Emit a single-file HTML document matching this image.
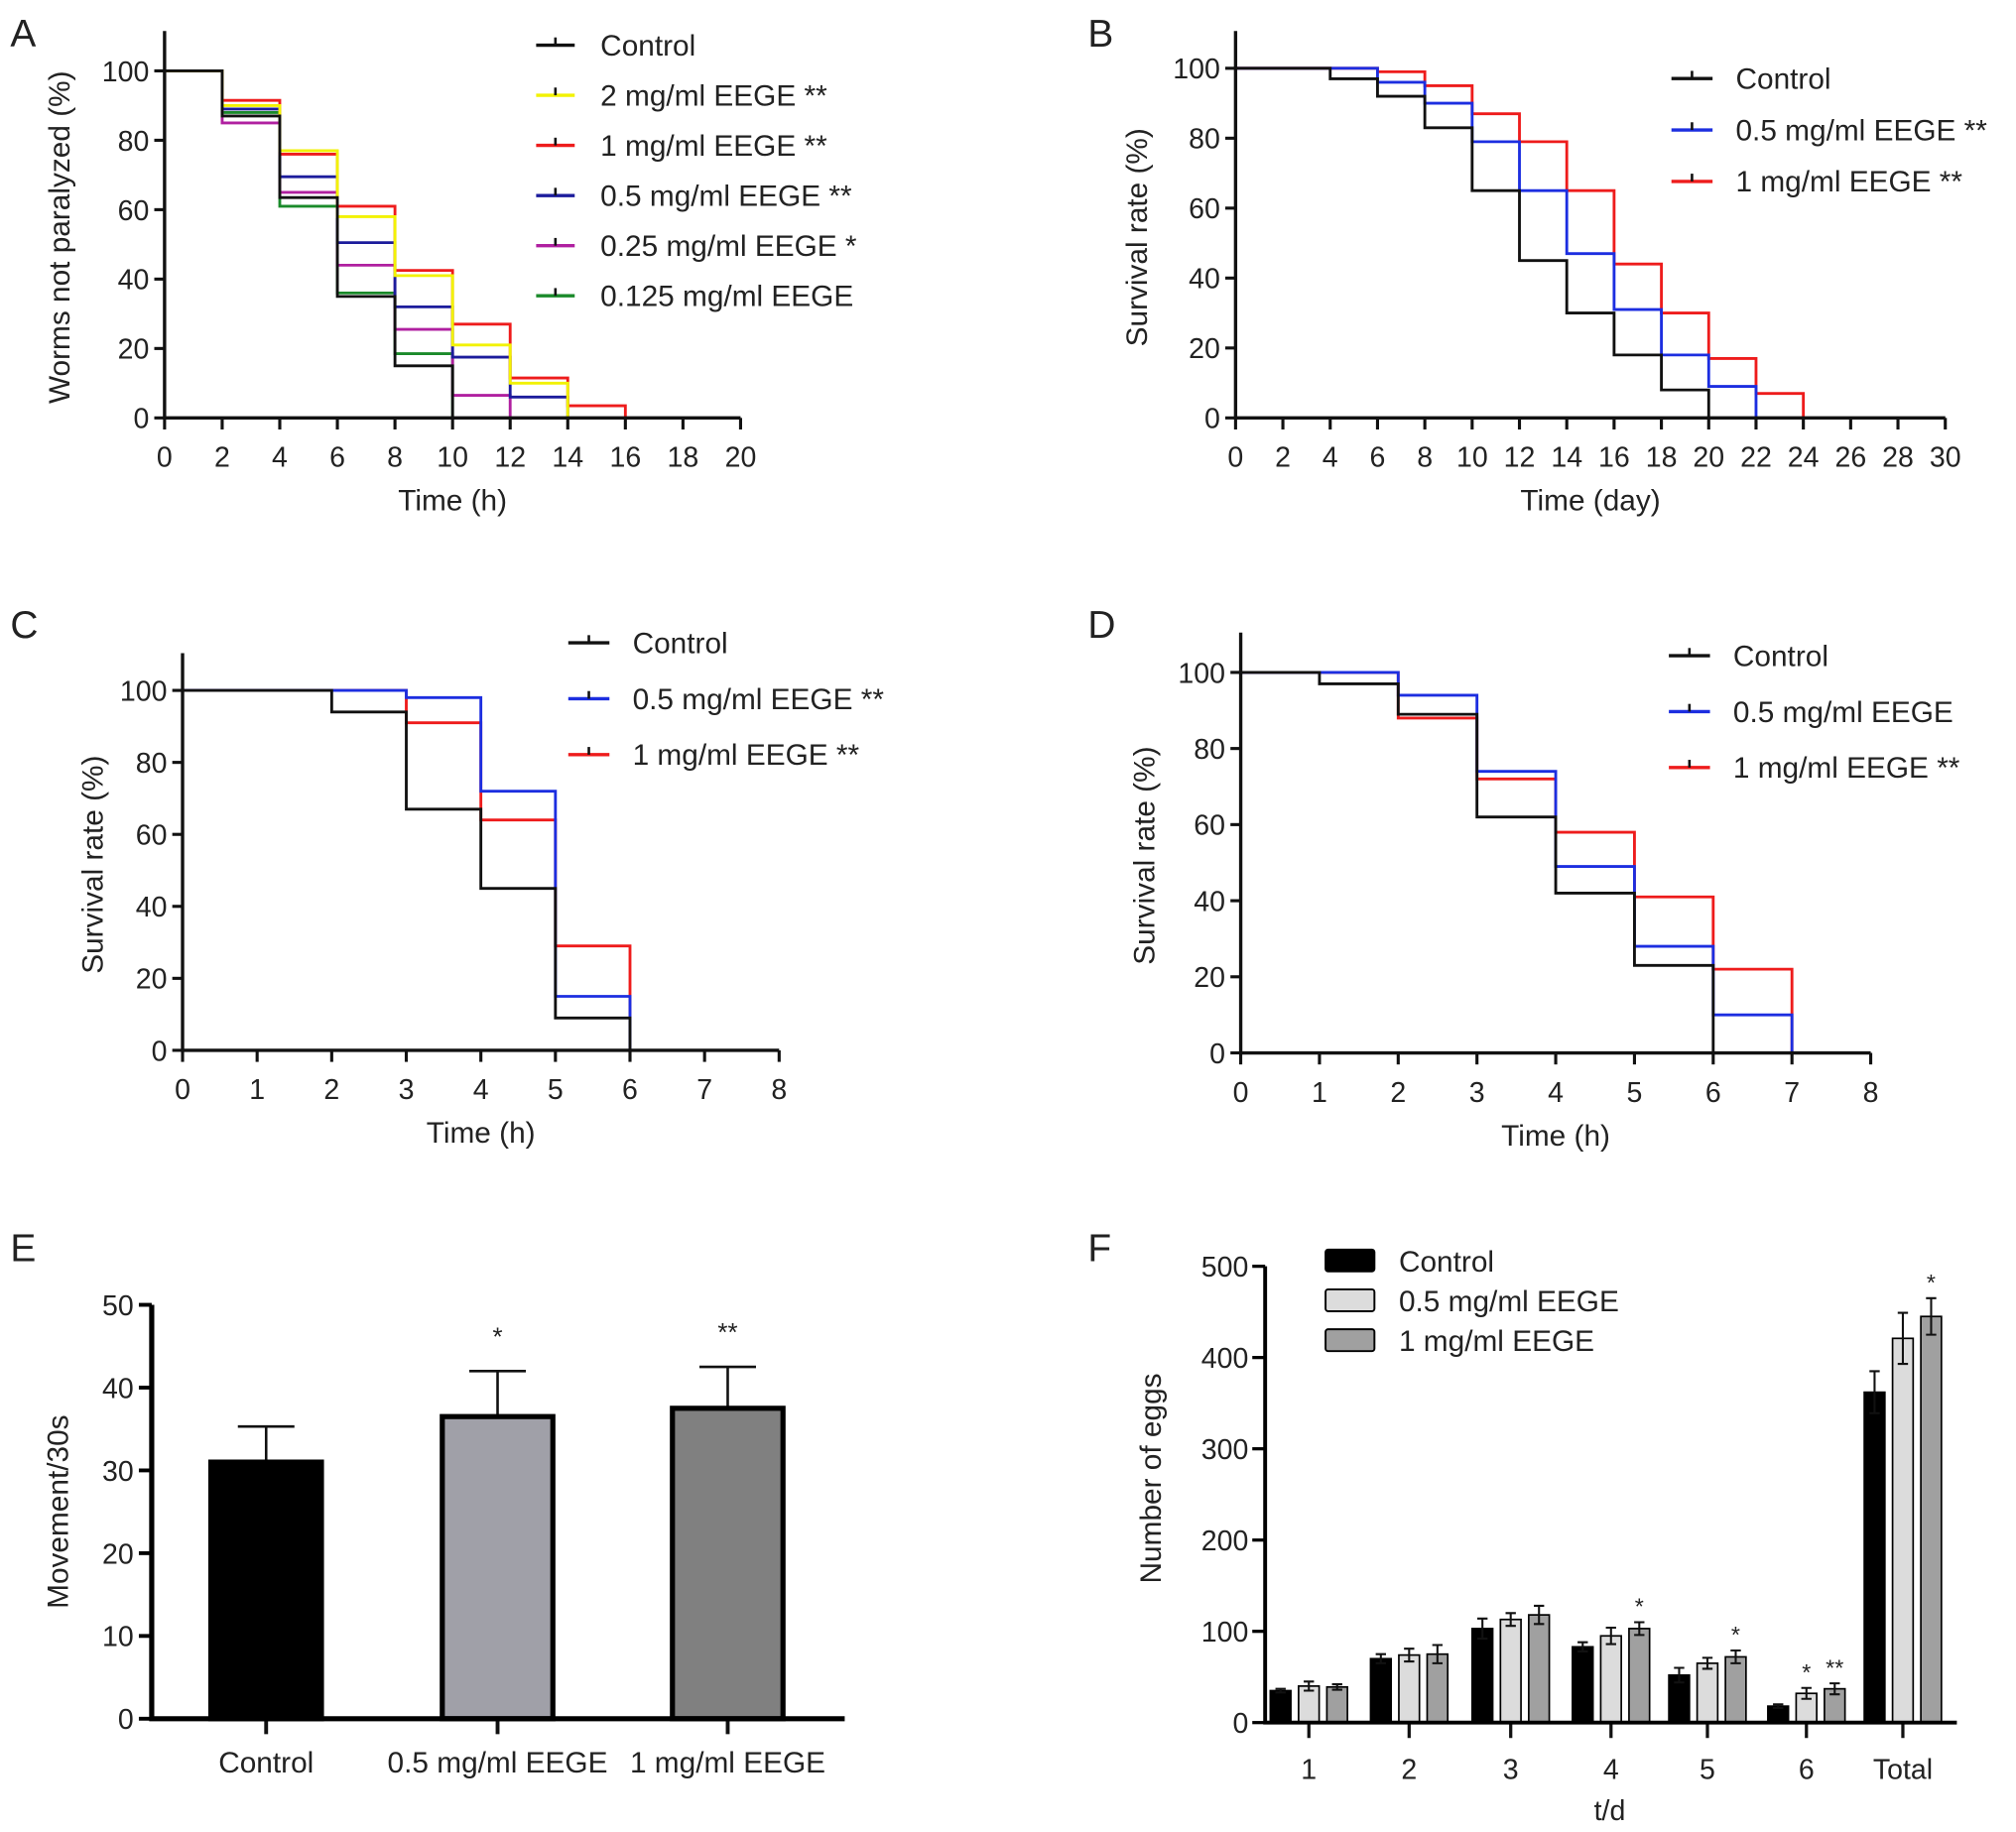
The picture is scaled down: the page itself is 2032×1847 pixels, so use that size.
<!DOCTYPE html>
<html><head><meta charset="utf-8"><style>
html,body{margin:0;padding:0;background:#fff}
svg{display:block}
text{font-family:"Liberation Sans",Arial,sans-serif;fill:#222}
</style></head><body>
<svg id="fig" width="2032" height="1847" viewBox="0 0 1568 1425" xmlns="http://www.w3.org/2000/svg"></svg>
<script>
// ---------- DATA ----------
const aSeriesNames = ["Control","2 mg/ml EEGE **","1 mg/ml EEGE **","0.5 mg/ml EEGE **","0.25 mg/ml EEGE *","0.125 mg/ml EEGE"];
const aColors = ["#111","#f2f200","#ee1c1c","#1c1c9c","#b020a0","#1a8a2a"];
const aControl = [100,87,63.5,35,15,0];
const a2mg = [100,90,77,58,41,21,10,0];
const a1mg = [100,91.5,76,61,42.5,27,11.5,3.5,0];
const a05mg = [100,89,69.5,50.5,32,17.5,6,0];
const a025mg = [100,85,65,44,25.5,6.5,0];
const a0125mg = [100,88,61,36,18.5,0];
const aXTicks = [0,2,4,6,8,10,12,14,16,18,20];
const bSeriesNames = ["Control","0.5 mg/ml EEGE **","1 mg/ml EEGE **"];
const bControl = [100,100,97,92,83,65,45,30,18,8,0];
const bBlue = [100,100,100,96,90,79,65,47,31,18,9,0];
const bRed = [100,100,100,99,95,87,79,65,44,30,17,7,0];
const bXTicks = [0,2,4,6,8,10,12,14,16,18,20,22,24,26,28,30];
const cSeriesNames = ["Control","0.5 mg/ml EEGE **","1 mg/ml EEGE **"];
const cControl = [100,100,94,67,45,9,0];
const cBlue = [100,100,100,98,72,15,0];
const cRed = [100,100,100,91,64,29,0];
const cXTicks = [0,1,2,3,4,5,6,7,8];
const dSeriesNames = ["Control","0.5 mg/ml EEGE","1 mg/ml EEGE **"];
const dControl = [100,97,89,62,42,23,0];
const dBlue = [100,100,94,74,49,28,10,0];
const dRed = [100,100,88,72,58,41,22,0];
const dXTicks = [0,1,2,3,4,5,6,7,8];
const survYTicks = [0,20,40,60,80,100];
const eCategories = ["Control","0.5 mg/ml EEGE","1 mg/ml EEGE"];
const eValues = [31,36.5,37.5];
const eErrors = [4.3,5.5,5];
const eSig = ["","*","**"];
const eYTicks = [0,10,20,30,40,50];
const fCategories = ["1","2","3","4","5","6","Total"];
const fSeriesNames = ["Control","0.5 mg/ml EEGE","1 mg/ml EEGE"];
const fControl = [35,70,103,83,52,18,362];
const fLow = [40,74,113,95,65,32,421];
const fHigh = [39,75,118,103,72,37,445];
const fControlErr = [2,5,11,5,8,2,23];
const fLowErr = [5,7,7,9,6,6,28];
const fHighErr = [3,10,10,7,7,6,20];
const fLowSig = ["","","","","","*",""];
const fHighSig = ["","","","*","*","**","*"];
const fYTicks = [0,100,200,300,400,500];

// ---------- HELPERS ----------
const NS="http://www.w3.org/2000/svg";
const svg=document.getElementById('fig');
function mk(tag,attrs,parent,txt){const e=document.createElementNS(NS,tag);for(const k in attrs)e.setAttribute(k,attrs[k]);if(txt!==undefined)e.textContent=txt;(parent||svg).appendChild(e);return e;}
function grp(name){const g=mk('g',{});return g;}

function stepPanel(o){
  const g=grp(o.name);
  const X=v=>o.x0+(v-o.xmin)/(o.xmax-o.xmin)*(o.x1-o.x0);
  const Y=v=>o.y0-(v)/100*(o.y0-o.y100);
  o.series.forEach((s,si)=>{
    let d='';
    s.forEach((v,i)=>{
      const xa=X(i*o.step), xb=X((i+1)*o.step);
      if(i===0) d+=`M${xa},${Y(v)}`; else d+=`L${xa},${Y(v)}`;
      if(i<s.length-1) d+=`L${xb},${Y(v)}`;
    });
    const p=mk('path',{d:d,fill:'none',stroke:o.colors[si],'stroke-width':2.2},g);
    
    
  });
  const ax=mk('path',{d:`M${o.x0},${o.ytop}V${o.y0}H${o.x1}`,fill:'none',stroke:'#111','stroke-width':2.6},g);
  
  
  o.yticks.forEach(t=>{
    mk('line',{x1:o.x0-8,x2:o.x0,y1:Y(t),y2:Y(t),stroke:'#111','stroke-width':2.4},g);
    const tx=mk('text',{x:o.x0-12,y:Y(t)+8,'font-size':22,'text-anchor':'end'},g,t);
    
    
  });
  o.xticks.forEach(t=>{
    mk('line',{x1:X(t),x2:X(t),y1:o.y0,y2:o.y0+9,stroke:'#111','stroke-width':2.4},g);
    const tx=mk('text',{x:X(t),y:o.y0+38,'font-size':22,'text-anchor':'middle'},g,t);
    
    
  });
  const xt=mk('text',{x:(o.x0+o.x1)/2,y:o.y0+72,'font-size':23,'text-anchor':'middle'},g,o.xtitle);
  
  
  const yc=(o.ytop+o.y0)/2+10;
  const yt=mk('text',{x:0,y:0,'font-size':23,'text-anchor':'middle',transform:`translate(${o.ytx},${yc}) rotate(-90)`},g,o.ytitle);
  
  
  const pl=mk('text',{x:o.lx,y:o.ly,'font-size':30},g,o.label);
  
  
}

stepPanel({name:'panel-a',label:'A',lx:8,ly:36,x0:128,x1:576,xmin:0,xmax:20,step:2,y0:325,y100:55,ytop:24,
  series:[aControl,a2mg,a1mg,a05mg,a025mg,a0125mg].slice().reverse(),colors:aColors.slice().reverse(),
  xticks:aXTicks,yticks:survYTicks,xtitle:'Time (h)',ytitle:'Worms not paralyzed (%)',ytx:54});
(function(){
  const g=grp('panel-a-legend');
  aSeriesNames.forEach((n,i)=>{
    const ly=35+i*39;
    const le=mk('g',{},g);
    
    
    mk('line',{x1:417,x2:447,y1:ly,y2:ly,stroke:aColors[i],'stroke-width':2.6},le);
    mk('line',{x1:432,x2:432,y1:ly-6,y2:ly,stroke:'#111','stroke-width':2},le);
    mk('text',{x:467,y:ly+8,'font-size':23},le,n);
  });
})();
stepPanel({name:'panel-b',label:'B',lx:846,ly:36,x0:961,x1:1513,xmin:0,xmax:30,step:2,y0:325,y100:53,ytop:24,
  series:[bControl,bBlue,bRed].reverse(),colors:['#ee1c1c','#1c2ee0','#111'],
  xticks:bXTicks,yticks:survYTicks,xtitle:'Time (day)',ytitle:'Survival rate (%)',ytx:892});
stepPanel({name:'panel-c',label:'C',lx:8,ly:496,x0:142,x1:606,xmin:0,xmax:8,step:1,y0:817,y100:537,ytop:508,
  series:[cControl,cBlue,cRed].reverse(),colors:['#ee1c1c','#1c2ee0','#111'],
  xticks:cXTicks,yticks:survYTicks,xtitle:'Time (h)',ytitle:'Survival rate (%)',ytx:80});
stepPanel({name:'panel-d',label:'D',lx:846,ly:496,x0:965,x1:1455,xmin:0,xmax:8,step:1,y0:819,y100:523,ytop:492,
  series:[dControl,dBlue,dRed].reverse(),colors:['#ee1c1c','#1c2ee0','#111'],
  xticks:dXTicks,yticks:survYTicks,xtitle:'Time (h)',ytitle:'Survival rate (%)',ytx:898});
[[bSeriesNames,1300,61,40,'panel-b-legend'],[cSeriesNames,442,500,43.5,'panel-c-legend'],[dSeriesNames,1298,510,43.5,'panel-d-legend']].forEach(L=>{
  const g=grp(L[4]);const cols=['#111','#1c2ee0','#ee1c1c'];
  L[0].forEach((n,i)=>{
    const ly=L[2]+i*L[3];
    const le=mk('g',{},g);
    
    
    mk('line',{x1:L[1],x2:L[1]+32,y1:ly,y2:ly,stroke:cols[i],'stroke-width':2.6},le);
    mk('line',{x1:L[1]+16,x2:L[1]+16,y1:ly-6,y2:ly,stroke:'#111','stroke-width':2},le);
    mk('text',{x:L[1]+50,y:ly+8,'font-size':23},le,n);
  });
});

// ---------- PANEL E ----------
(function(){
  const g=grp('panel-e');
  const x0=118,x1=657,y0=1337,y50=1015;
  const Y=v=>y0-v/50*(y0-y50);
  const centers=[207,387,566], w=86, cols=['#000','#a0a0a8','#808080'];
  eValues.forEach((v,i)=>{
    const top=Y(v+eErrors[i]);
    mk('line',{x1:centers[i],x2:centers[i],y1:Y(v),y2:top,stroke:'#111','stroke-width':2},g);
    mk('line',{x1:centers[i]-22,x2:centers[i]+22,y1:top,y2:top,stroke:'#111','stroke-width':2},g);
    const b=mk('rect',{x:centers[i]-w/2,y:Y(v),width:w,height:y0-Y(v),fill:cols[i],stroke:'#000','stroke-width':4},g);
    
    
    if(eSig[i]){const s=mk('text',{x:centers[i],y:top-20,'font-size':20,'text-anchor':'middle'},g,eSig[i]);
      }
    mk('line',{x1:centers[i],x2:centers[i],y1:y0,y2:y0+12,stroke:'#111','stroke-width':3},g);
    const t=mk('text',{x:centers[i],y:y0+42,'font-size':23,'text-anchor':'middle'},g,eCategories[i]);
    
  });
  mk('path',{d:`M${x0},${Y(50)}V${y0}H${x1}`,fill:'none',stroke:'#000','stroke-width':4},g);
  eYTicks.forEach(t=>{
    mk('line',{x1:x0-10,x2:x0,y1:Y(t),y2:Y(t),stroke:'#000','stroke-width':3},g);
    mk('text',{x:x0-14,y:Y(t)+8,'font-size':22,'text-anchor':'end'},g,t);
  });
  const yt=mk('text',{x:0,y:0,'font-size':23,'text-anchor':'middle',transform:`translate(53,1176) rotate(-90)`},g,'Movement/30s');
  
  const pl=mk('text',{x:8,y:981,'font-size':30},g,'E');
  
})();

// ---------- PANEL F ----------
(function(){
  const g=grp('panel-f');
  const x0=984,x1=1522,y0=1340,y500=985;
  const Y=v=>y0-v/500*(y0-y500);
  const centers=[1018,1096,1175,1253,1328,1405,1480];
  const bw=16, off=[-22,0,22], cols=['#000','#dcdcdc','#a0a0a0'];
  const vals=[fControl,fLow,fHigh], errs=[fControlErr,fLowErr,fHighErr], sigs=[null,fLowSig,fHighSig];
  fCategories.forEach((c,ci)=>{
    vals.forEach((sv,si)=>{
      const cx=centers[ci]+off[si], v=sv[ci], e=errs[si][ci];
      const b=mk('rect',{x:cx-bw/2,y:Y(v),width:bw,height:y0-Y(v),fill:cols[si],stroke:'#000','stroke-width':1.3},g);
      
      
      mk('path',{d:`M${cx},${Y(v-e)}V${Y(v+e)}M${cx-4},${Y(v+e)}H${cx+4}M${cx-4},${Y(v-e)}H${cx+4}`,stroke:'#111','stroke-width':1.6,fill:'none'},g);
      if(sigs[si]&&sigs[si][ci]){const s=mk('text',{x:cx,y:Y(v+e)-6,'font-size':18,'text-anchor':'middle'},g,sigs[si][ci]);
        }
    });
    mk('line',{x1:centers[ci],x2:centers[ci],y1:y0,y2:y0+12,stroke:'#111','stroke-width':2.5},g);
    const t=mk('text',{x:centers[ci],y:y0+44,'font-size':22,'text-anchor':'middle'},g,c);
    
  });
  mk('path',{d:`M${x0},${Y(500)}V${y0}H${x1}`,fill:'none',stroke:'#000','stroke-width':3},g);
  fYTicks.forEach(t=>{
    mk('line',{x1:x0-10,x2:x0,y1:Y(t),y2:Y(t),stroke:'#000','stroke-width':2.5},g);
    mk('text',{x:x0-13,y:Y(t)+8,'font-size':22,'text-anchor':'end'},g,t);
  });
  const xt=mk('text',{x:1252,y:1416,'font-size':22,'text-anchor':'middle'},g,'t/d');
  
  const yt=mk('text',{x:0,y:0,'font-size':23,'text-anchor':'middle',transform:`translate(903,1150) rotate(-90)`},g,'Number of eggs');
  
  fSeriesNames.forEach((n,i)=>{
    const ly=981+i*31;
    const le=mk('g',{},g);
    
    
    mk('rect',{x:1031,y:ly-9,width:38,height:17,fill:cols[i],stroke:'#000','stroke-width':1.5,rx:2},le);
    mk('text',{x:1088,y:ly+8,'font-size':23},le,n);
  });
  const pl=mk('text',{x:846,y:981,'font-size':30},g,'F');
  
})();
</script>
</body></html>
